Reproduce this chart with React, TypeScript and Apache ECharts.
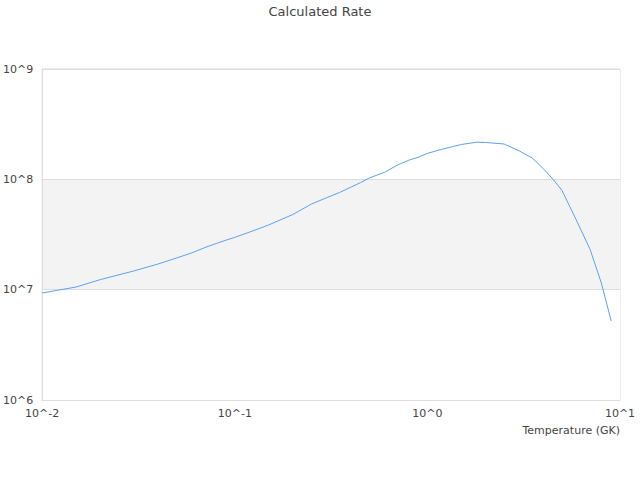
import React, { useEffect, useRef } from "react";
import * as echarts from "echarts";

const temperatures = [
  0.01, 0.015, 0.02, 0.03, 0.04, 0.05, 0.06, 0.07, 0.08, 0.09, 0.1, 0.12, 0.15,
  0.2, 0.25, 0.3, 0.35, 0.4, 0.45, 0.5, 0.6, 0.7, 0.8, 0.9, 1, 1.2, 1.5, 1.8, 2,
  2.5, 3, 3.5, 4, 4.5, 5, 6, 7, 8, 9,
];
const rates = [
  9.33e6, 1.057e7, 1.233e7, 1.48e7, 1.71e7, 1.94e7, 2.16e7, 2.41e7, 2.62e7,
  2.81e7, 2.98e7, 3.34e7, 3.86e7, 4.8e7, 5.97e7, 6.82e7, 7.6e7, 8.48e7, 9.34e7,
  1.03e8, 1.16e8, 1.35e8, 1.49e8, 1.59e8, 1.72e8, 1.88e8, 2.07e8, 2.17e8,
  2.16e8, 2.09e8, 1.81e8, 1.56e8, 1.25e8, 9.97e7, 7.92e7, 4.1e7, 2.31e7,
  1.15e7, 5.2e6,
];
const chartTitle = "Calculated Rate";
const xAxisName = "Temperature (GK)";

const fmt = (v: number) => "10^" + Math.round(Math.log10(v));

export default function App() {
  const ref = useRef<HTMLDivElement>(null);
  useEffect(() => {
    if (!ref.current) return;
    const chart = echarts.init(ref.current, undefined, { renderer: "svg" });
    const font = "DejaVu Sans";
    chart.setOption({
      animation: false,
      textStyle: { fontFamily: font },
      title: {
        text: chartTitle,
        left: "center",
        top: 0,
        textStyle: { fontSize: 13, fontWeight: "normal", color: "#444", fontFamily: font },
      },
      grid: {
        left: 40,
        right: 20,
        top: 69,
        bottom: 80,
        show: true,
        borderColor: "#ddd",
        borderWidth: 1,
        containLabel: false,
      },
      xAxis: {
        type: "log",
        logBase: 10,
        min: 0.01,
        max: 10,
        name: xAxisName,
        nameLocation: "end",
        nameGap: 0,
        nameTextStyle: {
          align: "right",
          verticalAlign: "top",
          padding: [25, 0, 0, 0],
          fontSize: 11,
          color: "#444",
          fontFamily: font,
        },
        axisLine: { show: true, lineStyle: { color: "#ddd" } },
        axisTick: { show: false },
        splitLine: { show: false },
        axisLabel: { formatter: fmt, fontSize: 11, color: "#444", margin: 8, fontFamily: font },
      },
      yAxis: {
        type: "log",
        logBase: 10,
        min: 1e6,
        max: 1e9,
        axisLine: { show: true, lineStyle: { color: "#ddd" } },
        axisTick: { show: false },
        splitLine: { show: true, lineStyle: { color: "#ddd" } },
        splitArea: { show: true, areaStyle: { color: ["#f3f3f3", "#ffffff"] } },
        axisLabel: { formatter: fmt, fontSize: 11, color: "#444", margin: 9, fontFamily: font },
      },
      series: [
        {
          type: "line",
          data: temperatures.map((t, i) => [t, rates[i]]),
          showSymbol: false,
          symbol: "none",
          lineStyle: { color: "#5aa2f0", width: 1 },
          itemStyle: { color: "#5aa2f0" },
        },
      ],
    });
    return () => chart.dispose();
  }, []);
  return (
    <div
      ref={ref}
      style={{ position: "absolute", left: 0, top: 0, width: 640, height: 480 }}
    />
  );
}
